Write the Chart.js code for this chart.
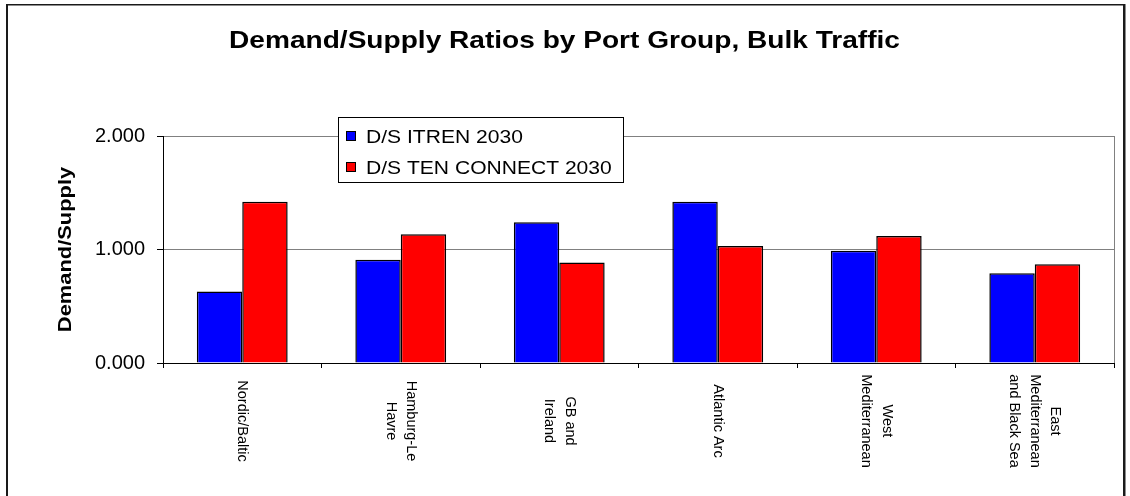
<!DOCTYPE html>
<html>
<head>
<meta charset="utf-8">
<title>Demand/Supply Ratios by Port Group, Bulk Traffic</title>
<script src="https://cdn.jsdelivr.net/npm/chart.js@4/dist/chart.umd.min.js"></script>
<style>
  html, body { margin: 0; padding: 0; background: #fff; }
  #wrap { width: 1130px; height: 496px; position: relative; }
</style>
</head>
<body>
<div id="wrap"><canvas id="myChart"></canvas></div>
<script>
var FONT = "'Liberation Sans', Arial, sans-serif";

// chart data
var chartTitle     = "Demand/Supply Ratios by Port Group, Bulk Traffic";
var yAxisTitle     = "Demand/Supply";
var portGroups     = [["Nordic/Baltic"], ["Hamburg-Le", "Havre"], ["GB and", "Ireland"], ["Atlantic Arc"], ["West", "Mediterranean"], ["East", "Mediterranean", "and Black Sea"]];
var seriesNames    = ["D/S ITREN 2030", "D/S TEN CONNECT 2030"];
var seriesColors   = ["#0000ff", "#ff0000"];
var itren2030      = [0.63, 0.91, 1.24, 1.42, 0.99, 0.79];
var tenConnect2030 = [1.42, 1.135, 0.885, 1.03, 1.12, 0.87];
var yTicks         = [0, 1, 2];

var ctx = document.getElementById("myChart");

// text drawn wide along its own direction (sx = stretch factor)
function wideText(c, text, x, y, angle, sx, font, align){
    c.save();
    c.translate(x, y);
    c.rotate(angle);
    c.scale(sx, 1);
    c.font = font;
    c.textAlign = align;
    c.textBaseline = "alphabetic";
    c.fillStyle = "#000";
    c.fillText(text, 0, 0);
    c.restore();
}

var decorations = {
    id: "decorations",
    afterDraw: function(chart){
        var c = chart.ctx;
        var area = chart.chartArea;
        var xScale = chart.scales.x;

        c.save();
        // right edge of the plot area
        c.strokeStyle = "#808080";
        c.lineWidth = 1;
        c.beginPath();
        c.moveTo(area.right + 0.5, area.top);
        c.lineTo(area.right + 0.5, area.bottom);
        c.stroke();

        // outer frame (bottom edge falls off the canvas)
        c.fillStyle = "#1a1a1a";
        c.fillRect(6, 4, 2, 492);
        c.fillRect(6, 4, 1119, 1.5);
        c.fillRect(1123, 4, 2.5, 492);
        c.restore();

        // title
        wideText(c, chartTitle, 564.5, 48, 0, 1.17, "bold 24px " + FONT, "center");

        // y axis title
        c.save();
        c.translate(71, 249.5);
        c.rotate(-Math.PI / 2);
        c.scale(1.25, 1);
        c.font = "bold 17.5px " + FONT;
        c.textAlign = "center";
        c.textBaseline = "alphabetic";
        c.fillStyle = "#000";
        c.fillText(yAxisTitle, 0, 0);
        c.restore();

        // category labels, read top to bottom, first line on the right
        c.save();
        c.font = "14.5px " + FONT;
        c.fillStyle = "#000";
        c.textAlign = "center";
        c.textBaseline = "middle";
        for(var i = 0; i < portGroups.length; i++){
            var lines = portGroups[i];
            var cx = xScale.getPixelForValue(i);
            for(var j = 0; j < lines.length; j++){
                var lx = cx + ((lines.length - 1) / 2 - j) * 20.5;
                c.save();
                c.translate(lx, 421);
                c.rotate(Math.PI / 2);
                c.fillText(lines[j], 0, 0);
                c.restore();
            }
        }
        c.restore();

        // legend box
        c.save();
        c.fillStyle = "#fff";
        c.fillRect(338.5, 117.5, 285, 65);
        c.strokeStyle = "#000";
        c.lineWidth = 1;
        c.strokeRect(338.5, 117.5, 285, 65);
        var rowY = [131.5, 162.5];
        for(var k = 0; k < chart.data.datasets.length; k++){
            var ds = chart.data.datasets[k];
            c.fillStyle = ds.backgroundColor;
            c.fillRect(346.5, rowY[k], 9, 9);
            c.strokeStyle = "#000";
            c.strokeRect(346.5, rowY[k], 9, 9);
            wideText(c, ds.label, 366, rowY[k] + 11.5, 0, 1.17, "18px " + FONT, "left");
        }
        c.restore();
    }
};

var chart = new Chart(ctx, {
    type: "bar",
    data: {
        labels: portGroups,
        datasets: [{
            label: seriesNames[0],
            data: itren2030,
            backgroundColor: seriesColors[0],
            borderColor: "#000",
            borderWidth: 1.5
        }, {
            label: seriesNames[1],
            data: tenConnect2030,
            backgroundColor: seriesColors[1],
            borderColor: "#000",
            borderWidth: 1.5
        }]
    },
    options: {
        responsive: true,
        maintainAspectRatio: false,
        animation: false,
        events: [],
        layout: { padding: { top: 136, right: 16, left: 0, bottom: 0 } },
        datasets: { bar: { categoryPercentage: 0.573, barPercentage: 1.0 } },
        plugins: {
            legend: { display: false },
            title: { display: false },
            tooltip: { enabled: false }
        },
        scales: {
            x: {
                offset: true,
                ticks: { display: false },
                grid: { display: true, offset: true, drawOnChartArea: false, drawTicks: true, tickLength: 5, color: "#000" },
                border: { display: true, color: "#000" },
                afterFit: function(scale){ scale.height = 133; }
            },
            y: {
                min: 0,
                max: 2,
                afterBuildTicks: function(scale){
                    scale.ticks = yTicks.map(function(v){ return { value: v }; });
                },
                ticks: {
                    padding: 12,
                    color: "#000",
                    font: { family: FONT, size: 20 },
                    callback: function(v){ return Number(v).toFixed(3); }
                },
                grid: { color: "#808080", tickColor: "#000", tickLength: 6, lineWidth: 1 },
                border: { display: true, color: "#000" },
                afterFit: function(scale){ scale.width = 163; }
            }
        }
    },
    plugins: [decorations]
});
</script>
</body>
</html>
